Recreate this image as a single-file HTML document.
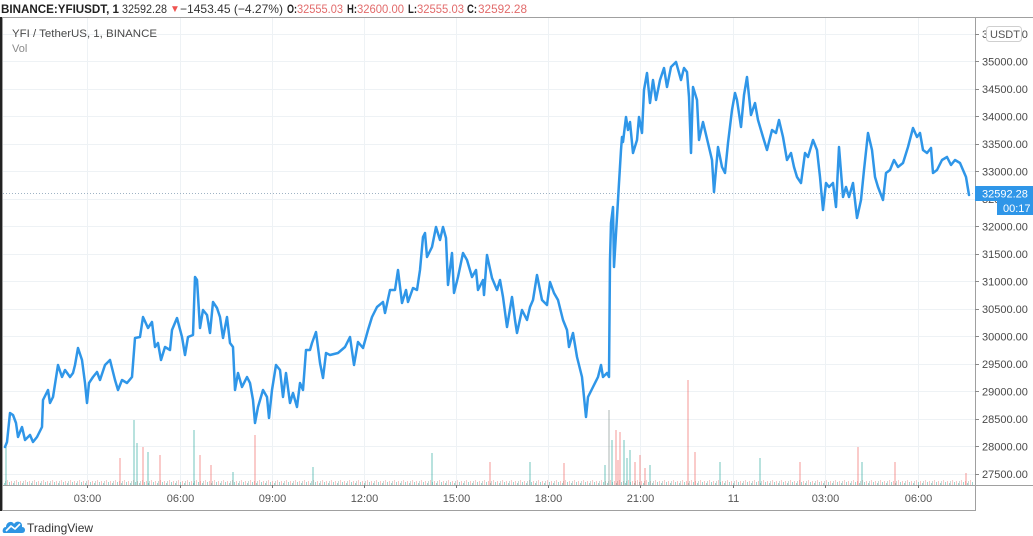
<!DOCTYPE html>
<html><head><meta charset="utf-8">
<style>
html,body{margin:0;padding:0;background:#fff;width:1033px;height:536px;overflow:hidden}
svg{display:block}
text{font-family:"Liberation Sans",sans-serif}
</style></head><body>
<svg width="1033" height="536" viewBox="0 0 1033 536" xmlns="http://www.w3.org/2000/svg">
<defs>
<pattern id="vp" x="0" y="473" width="9" height="12" patternUnits="userSpaceOnUse">
<rect x="0" y="9" width="1" height="3" fill="#26a69a" opacity="0.45"/>
<rect x="2" y="8" width="1" height="4" fill="#ef5350" opacity="0.35"/>
<rect x="4" y="10" width="1" height="2" fill="#26a69a" opacity="0.45"/>
<rect x="5" y="8" width="1" height="4" fill="#7a9a90" opacity="0.4"/>
<rect x="7" y="7" width="1" height="5" fill="#ef5350" opacity="0.3"/>
</pattern>
</defs>

<!-- header -->
<g font-size="12" fill="#222">
<text x="1" y="13" font-weight="bold" textLength="118" lengthAdjust="spacingAndGlyphs">BINANCE:YFIUSDT, 1</text>
<text x="122" y="13" textLength="45" lengthAdjust="spacingAndGlyphs" fill="#333">32592.28</text>
<text x="170" y="12" font-size="10" fill="#ef5350">▼</text>
<text x="180" y="13" textLength="103" lengthAdjust="spacingAndGlyphs" fill="#333">−1453.45 (−4.27%)</text>
<text x="287" y="13" font-weight="bold" textLength="10" lengthAdjust="spacingAndGlyphs">O:</text>
<text x="297" y="13" textLength="46" lengthAdjust="spacingAndGlyphs" fill="#e26b6b">32555.03</text>
<text x="347" y="13" font-weight="bold" textLength="10" lengthAdjust="spacingAndGlyphs">H:</text>
<text x="357" y="13" textLength="47" lengthAdjust="spacingAndGlyphs" fill="#e26b6b">32600.00</text>
<text x="408" y="13" font-weight="bold" textLength="9" lengthAdjust="spacingAndGlyphs">L:</text>
<text x="417" y="13" textLength="47" lengthAdjust="spacingAndGlyphs" fill="#e26b6b">32555.03</text>
<text x="467" y="13" font-weight="bold" textLength="10" lengthAdjust="spacingAndGlyphs">C:</text>
<text x="478" y="13" textLength="49" lengthAdjust="spacingAndGlyphs" fill="#e26b6b">32592.28</text>
</g>

<!-- grid -->
<g stroke="#eef2f5" stroke-width="1">
<path d="M3 34.5H975M3 61.5H975M3 89.5H975M3 116.5H975M3 144.5H975M3 171.5H975M3 199.5H975M3 226.5H975M3 254.5H975M3 281.5H975M3 309.5H975M3 336.5H975M3 364.5H975M3 391.5H975M3 419.5H975M3 446.5H975M3 474.5H975"/>
<path d="M87.5 18V485M180.5 18V485M272.5 18V485M364.5 18V485M456.5 18V485M548.5 18V485M640.5 18V485M733.5 18V485M825.5 18V485M918.5 18V485"/>
</g>

<!-- volume -->
<rect x="3" y="473" width="970" height="12" fill="url(#vp)"/>
<g stroke-width="1.2">
<g stroke="#26a69a" stroke-opacity="0.55">
<path d="M6 485V447M134 485V420M137 485V443M148 485V452M194 485V430M233 485V472M313 485V467M432 485V453M530 485V462M612 485V440M624 485V440M630 485V450M650 485V465M720 485V462M760 485V458M862 485V462M605 485V465M627 485V458"/>
</g>
<g stroke="#8a9a96" stroke-opacity="0.6"><path d="M609 485V410"/></g>
<g stroke="#ef5350" stroke-opacity="0.5">
<path d="M120 485V458M143 485V447M160 485V455M200 485V455M211 485V465M255 485V435M490 485V462M564 485V463M616 485V430M620 485V432M640 485V455M688 485V380M695 485V452M800 485V462M858 485V447M895 485V462M966 485V473M618 485V460M635 485V462M645 485V468"/>
</g>
</g>

<!-- last price dotted line -->
<path d="M3 193.5H975" stroke="#9fb3c4" stroke-width="1" stroke-dasharray="1 2"/>

<!-- price line -->
<polyline fill="none" stroke="#2f96e8" stroke-width="2.5" stroke-linejoin="round" stroke-linecap="round" points="5,447 7,442 10,413 13,415 16,423 18,437 22,427 25,440 30,435 33,442 37,437 42,427 43,400 48,390 50,403 53,397 58,365 62,377 65,370 70,377 73,373 75,365 78,348 82,360 85,383 87,403 89,383 93,377 97,372 100,380 105,365 110,360 115,380 118,390 122,380 127,383 132,377 135,338 140,337 143,317 148,328 152,322 155,347 158,343 161,360 165,347 170,350 172,330 177,318 182,337 185,355 188,337 193,335 195,277 197,280 200,328 203,310 207,315 210,333 213,302 217,308 220,317 223,338 227,317 230,343 233,347 235,390 238,373 242,387 247,377 250,383 253,400 255,423 258,407 263,390 267,397 269,418 272,390 276,365 280,370 283,397 286,373 290,403 293,393 297,407 300,383 303,390 306,350 310,350 312,343 316,332 320,363 323,378 326,353 330,355 338,353 345,347 350,337 354,365 358,342 363,348 368,330 372,317 377,307 383,302 385,313 390,290 395,290 398,270 402,303 406,290 408,302 413,288 417,290 420,270 423,237 425,233 427,257 432,247 436,227 440,240 443,227 446,238 448,285 452,253 454,293 458,277 463,253 467,260 472,277 476,270 478,290 483,280 484,295 487,255 492,278 497,290 500,280 503,297 507,327 512,297 515,320 517,333 522,310 527,320 530,307 533,300 537,275 542,300 547,305 550,282 554,293 558,300 563,320 567,330 569,347 573,333 577,357 582,377 586,417 588,397 593,387 598,377 601,365 603,377 607,373 609,377 610,260 611,223 613,207 614,267 617,217 619,183 621,150 622,137 623,142 626,117 628,130 630,122 633,153 637,140 639,117 642,133 644,90 647,73 650,103 653,80 656,100 660,80 664,68 667,87 671,67 676,62 681,80 684,68 687,72 689,97 691,153 693,87 697,100 699,140 703,122 708,143 712,160 714,192 718,147 722,167 725,173 728,143 732,110 735,93 737,100 741,127 744,95 747,77 751,115 755,103 758,120 763,137 767,150 772,130 776,133 779,120 783,137 787,160 791,153 794,167 797,177 801,183 805,153 808,157 813,140 817,150 820,177 823,210 826,183 829,187 833,183 836,207 839,147 843,197 846,187 849,197 853,183 857,218 861,200 864,170 868,133 872,150 875,177 878,187 883,200 886,173 890,170 894,160 898,167 903,163 908,147 913,128 917,137 920,133 923,150 927,153 931,148 933,173 937,170 942,160 947,157 951,165 955,160 960,163 963,170 966,177 969,195"/>

<!-- legend -->
<text x="12" y="37" font-size="11" fill="#4a4a4a" textLength="145" lengthAdjust="spacingAndGlyphs">YFI / TetherUS, 1, BINANCE</text>
<text x="12" y="52" font-size="11" fill="#8a8a8a">Vol</text>

<!-- frame -->
<g stroke="#a0a0a0" stroke-width="1" fill="none">
<path d="M2 17.5H1033"/>
<path d="M2.5 17V511"/>
<path d="M2 510.5H976"/>
<path d="M975.5 17V511"/>
<path d="M2 485.5H1033"/>
</g>
<rect x="0" y="17" width="2" height="494" fill="#222"/>

<!-- price axis ticks -->
<path stroke="#8a8a8a" stroke-width="1" d="M975 34.5h4M975 61.5h4M975 89.5h4M975 116.5h4M975 144.5h4M975 171.5h4M975 199.5h4M975 226.5h4M975 254.5h4M975 281.5h4M975 309.5h4M975 336.5h4M975 364.5h4M975 391.5h4M975 419.5h4M975 446.5h4M975 474.5h4"/>
<g font-size="11" fill="#4a4a4a">
<text x="982" y="38">35500.00</text>
<text x="982" y="65.5">35000.00</text>
<text x="982" y="93">34500.00</text>
<text x="982" y="120.5">34000.00</text>
<text x="982" y="148">33500.00</text>
<text x="982" y="175.5">33000.00</text>
<text x="982" y="203">32500.00</text>
<text x="982" y="230.5">32000.00</text>
<text x="982" y="258">31500.00</text>
<text x="982" y="285.5">31000.00</text>
<text x="982" y="313">30500.00</text>
<text x="982" y="340.5">30000.00</text>
<text x="982" y="368">29500.00</text>
<text x="982" y="395.5">29000.00</text>
<text x="982" y="423">28500.00</text>
<text x="982" y="450.5">28000.00</text>
<text x="982" y="478">27500.00</text>
</g>

<!-- USDT box -->
<rect x="986.5" y="26.5" width="35" height="15" rx="3" fill="#fff" stroke="#cfcfcf"/>
<text x="990" y="38" font-size="11" fill="#555">USDT</text>

<!-- price badge -->
<rect x="975" y="186" width="58" height="15" fill="#2f96e8"/>
<text x="982" y="197.5" font-size="11" fill="#fff">32592.28</text>
<rect x="997" y="201" width="36" height="14" fill="#2f96e8"/>
<text x="1003" y="212" font-size="11" fill="#fff">00:17</text>

<!-- time labels -->
<g font-size="11" fill="#555" text-anchor="middle">
<text x="87.5" y="502">03:00</text>
<text x="180.5" y="502">06:00</text>
<text x="272.5" y="502">09:00</text>
<text x="364.5" y="502">12:00</text>
<text x="456.5" y="502">15:00</text>
<text x="548.5" y="502">18:00</text>
<text x="640.5" y="502">21:00</text>
<text x="733.5" y="502">11</text>
<text x="825.5" y="502">03:00</text>
<text x="918.5" y="502">06:00</text>
</g>
<path stroke="#777" stroke-width="1" d="M87.5 485v3M180.5 485v3M272.5 485v3M364.5 485v3M456.5 485v3M548.5 485v3M640.5 485v3M733.5 485v3M825.5 485v3M918.5 485v3"/>

<!-- TradingView logo -->
<g>
<path d="M4 533 C2 533 2 527 6 527 C6 522 12 520 14 524 C16 520 23 521 22 527 C26 527 26 533 22 533 Z" fill="#2e95e3"/>
<path d="M6 531 L11 526 L15 529 L20 524" stroke="#fff" stroke-width="1.6" fill="none" stroke-linejoin="round"/>
</g>
<text x="27" y="532" font-size="12" fill="#333">TradingView</text>
</svg>
</body></html>
